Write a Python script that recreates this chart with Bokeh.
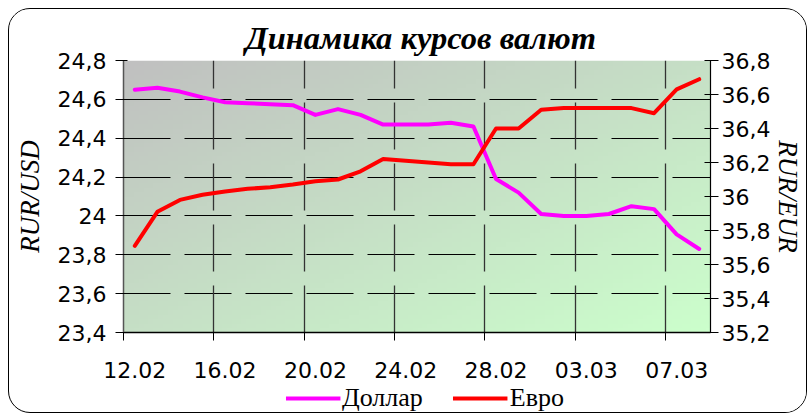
import math
import numpy as np
from bokeh.plotting import figure
from bokeh.layouts import column, row
from bokeh.models import Range1d, LinearAxis, FixedTicker, Grid, Legend, LegendItem, Spacer
from bokeh.embed import file_html
from bokeh.resources import INLINE

# ---- data ----
dates = ["12.02", "13.02", "14.02", "15.02", "16.02", "17.02", "18.02", "19.02",
         "20.02", "21.02", "22.02", "23.02", "24.02", "25.02", "26.02", "27.02",
         "28.02", "29.02", "01.03", "02.03", "03.03", "04.03", "05.03", "06.03",
         "07.03", "08.03"]
usd = [24.65, 24.66, 24.64, 24.61, 24.585, 24.58, 24.575, 24.57, 24.52, 24.55,
       24.52, 24.47, 24.47, 24.47, 24.48, 24.46, 24.19, 24.12, 24.01, 24.00,
       24.00, 24.01, 24.05, 24.035, 23.905, 23.83]
eur = [35.71, 35.91, 35.98, 36.01, 36.03, 36.045, 36.055, 36.07, 36.09, 36.10,
       36.148, 36.22, 36.21, 36.20, 36.19, 36.19, 36.40, 36.40, 36.51, 36.52,
       36.52, 36.52, 36.52, 36.49, 36.63, 36.69]
usd_ticks = [23.4, 23.6, 23.8, 24.0, 24.2, 24.4, 24.6, 24.8]
usd_tick_labels = ["23,4", "23,6", "23,8", "24", "24,2", "24,4", "24,6", "24,8"]
eur_ticks = [35.2, 35.4, 35.6, 35.8, 36.0, 36.2, 36.4, 36.6, 36.8]
eur_tick_labels = ["35,2", "35,4", "35,6", "35,8", "36", "36,2", "36,4", "36,6", "36,8"]
series_names = ["Доллар", "Евро"]
label_step = 4

n = len(dates)
xs = [i + 0.5 for i in range(n)]
label_pos = [i + 0.5 for i in range(0, n, label_step)]
label_txt = {p: dates[int(p - 0.5)] for p in label_pos}
bound_pos = [float(i) for i in range(0, n, label_step)]

TICK_FONT = "DejaVu Sans"
SERIF = "Liberation Serif"
USD_COLOR = "#ff00ff"
EUR_COLOR = "#ff0000"
W_FIG = 797
LEG_SHIFT = 34

p = figure(width=W_FIG, height=374, output_backend="svg", toolbar_location=None,
           x_range=Range1d(0, n), y_range=Range1d(usd_ticks[0], usd_ticks[-1]),
           x_axis_location=None,
           min_border_left=114, min_border_right=95, min_border_top=51,
           min_border_bottom=51)
p.extra_y_ranges = {"eur": Range1d(eur_ticks[0], eur_ticks[-1])}
p.outline_line_color = None
p.background_fill_color = None
p.border_fill_color = "white"
p.xgrid.visible = False
p.ygrid.visible = False

# title
p.title.text = "Динамика курсов валют"
p.title.align = "left"
p.title.offset = 122
p.title.text_font = SERIF
p.title.text_font_style = "bold italic"
p.title.text_font_size = "32.5px"
p.title.text_color = "black"
p.title.standoff = 9

# background gradient (style only)
H, W = 60, 120
yy, xx = np.mgrid[0:H, 0:W]
t = (xx / (W - 1) + (1 - yy / (H - 1))) / 2.0
c0 = np.array([192, 192, 192])
c1 = np.array([204, 255, 204])
img = np.empty((H, W), dtype=np.uint32)
view = img.view(dtype=np.uint8).reshape((H, W, 4))
for k in range(3):
    view[:, :, k] = (c0[k] + (c1[k] - c0[k]) * t).astype(np.uint8)
view[:, :, 3] = 255
p.image_rgba(image=[img], x=0, y=usd_ticks[0], dw=n, dh=usd_ticks[-1] - usd_ticks[0],
             level="image")

# grids
gy = Grid(dimension=1, ticker=FixedTicker(ticks=usd_ticks[1:]),
          grid_line_color="black", grid_line_width=1, grid_line_dash="47 14")
gx = Grid(dimension=0, ticker=FixedTicker(ticks=bound_pos[1:]),
          grid_line_color="#333333", grid_line_width=1.3, grid_line_dash="47 14")
p.add_layout(gy)
p.add_layout(gx)

# left axis
ya = p.yaxis[0]
ya.ticker = FixedTicker(ticks=usd_ticks)
ya.major_label_overrides = dict(zip(usd_ticks, usd_tick_labels))
ya.minor_tick_line_color = None
ya.major_tick_in = 4
ya.major_tick_out = 8
ya.axis_line_color = "#555555"
ya.axis_line_width = 1.5
ya.major_tick_line_color = "black"
ya.major_label_text_font = TICK_FONT
ya.major_label_text_font_size = "22px"
ya.major_label_text_color = "black"
ya.major_label_standoff = 9
ya.axis_label = "RUR/USD"
ya.axis_label_text_font = SERIF
ya.axis_label_text_font_style = "italic"
ya.axis_label_text_font_size = "27px"
ya.axis_label_text_color = "black"
ya.axis_label_standoff = 10

# right axis
ra = LinearAxis(y_range_name="eur", ticker=FixedTicker(ticks=eur_ticks))
ra.major_label_overrides = dict(zip(eur_ticks, eur_tick_labels))
ra.minor_tick_line_color = None
ra.major_tick_in = 6
ra.major_tick_out = 8
ra.axis_line_color = "black"
ra.axis_line_width = 1.2
ra.major_label_text_font = TICK_FONT
ra.major_label_text_font_size = "22px"
ra.major_label_text_color = "black"
ra.major_label_standoff = 3
ra.axis_label = "RUR/EUR"
ra.axis_label_text_font = SERIF
ra.axis_label_text_font_style = "italic"
ra.axis_label_text_font_size = "27px"
ra.axis_label_text_color = "black"
ra.axis_label_standoff = 0
if "axis_label_orientation" in ra.properties():
    ra.axis_label_orientation = "vertical"
p.add_layout(ra, "right")

# bottom axes: tick marks at boundaries, labels at category centres
xb = LinearAxis(ticker=FixedTicker(ticks=bound_pos))
xb.major_label_overrides = {b: " " for b in bound_pos}
xb.major_label_text_font_size = "2px"
xb.major_label_standoff = 0
xb.minor_tick_line_color = None
xb.major_tick_in = 0
xb.major_tick_out = 8
xb.axis_line_color = "black"
xb.axis_line_width = 1.3
xb.major_tick_line_color = "black"
p.add_layout(xb, "below")

xl = LinearAxis(ticker=FixedTicker(ticks=label_pos))
xl.major_label_overrides = label_txt
xl.axis_line_color = None
xl.major_tick_line_color = None
xl.minor_tick_line_color = None
xl.major_tick_in = 0
xl.major_tick_out = 0
xl.major_label_text_font = TICK_FONT
xl.major_label_text_font_size = "22px"
xl.major_label_text_color = "black"
xl.major_label_standoff = 16
p.add_layout(xl, "below")

# series
p.line(xs, usd, line_color=USD_COLOR, line_width=4, line_join="round", line_cap="round")
p.line(xs, eur, line_color=EUR_COLOR, line_width=4, line_join="round", line_cap="round",
       y_range_name="eur")

# legend strip (its lines carry the series but lie outside this strip's ranges)
q = figure(width=W_FIG - LEG_SHIFT, height=29, output_backend="svg",
           toolbar_location=None,
           x_range=Range1d(0, 1), y_range=Range1d(0, 1),
           x_axis_location=None, y_axis_location=None,
           min_border_left=0, min_border_right=0, min_border_top=0,
           min_border_bottom=0)
q.outline_line_color = None
q.xgrid.visible = False
q.ygrid.visible = False
l1 = q.line(xs, usd, line_color=USD_COLOR, line_width=4)
l2 = q.line(xs, eur, line_color=EUR_COLOR, line_width=4)
legend = Legend(items=[LegendItem(label=series_names[0], renderers=[l1]),
                       LegendItem(label=series_names[1], renderers=[l2])],
                orientation="horizontal", location="center")
legend.label_text_font = SERIF
legend.label_text_font_size = "26px"
legend.label_text_color = "black"
legend.glyph_width = 55
legend.label_standoff = 2
legend.spacing = 30
legend.padding = 0
legend.margin = 0
legend.border_line_color = None
legend.background_fill_alpha = 0
q.add_layout(legend)

legend_row = row(Spacer(width=LEG_SHIFT, height=29), q, spacing=0)
layout = column(p, legend_row, spacing=0)
layout.styles = {"border": "1.5px solid black", "border-radius": "22px",
                 "margin": "8px 0 0 8px", "overflow": "hidden"}

open("out.html", "w").write(file_html(layout, INLINE))
